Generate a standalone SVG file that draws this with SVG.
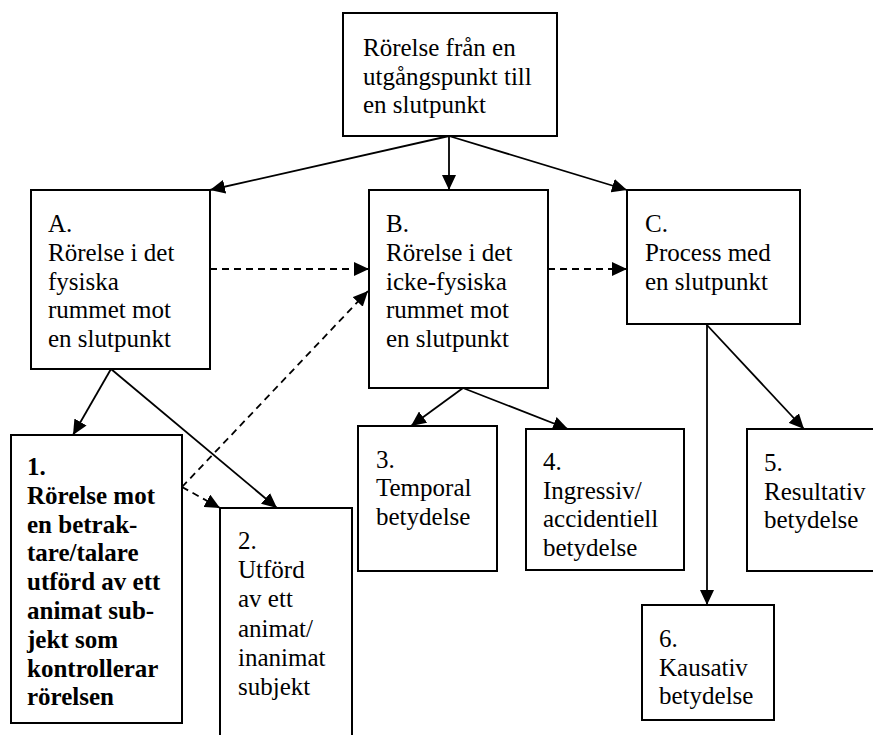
<svg xmlns="http://www.w3.org/2000/svg" width="873" height="735" viewBox="0 0 873 735">
<style>
.box{fill:#fff;stroke:#000;stroke-width:2}
.t{font-family:"Liberation Serif","Times New Roman",serif;font-size:25px;fill:#000}
.b{font-weight:bold}
.ln{fill:none;stroke:#000;stroke-width:1.8}
.dash{stroke-dasharray:7 5}
</style>
<defs>
<marker id="ah" markerUnits="userSpaceOnUse" markerWidth="16" markerHeight="14" refX="15" refY="7" orient="auto">
<path d="M0,0 L15,7 L0,14 z" fill="#000"/>
</marker>
</defs>
<rect width="873" height="735" fill="#fff"/>
<g id="connectors">
<path class="ln" d="M449,136 L210,190" marker-end="url(#ah)"/>
<path class="ln" d="M449,136 L449,190" marker-end="url(#ah)"/>
<path class="ln" d="M449,136 L627,190" marker-end="url(#ah)"/>
<path class="ln dash" d="M210,269 L369,269" marker-end="url(#ah)"/>
<path class="ln dash" d="M548,269 L627,269" marker-end="url(#ah)"/>
<path class="ln" d="M111,369 L73,435" marker-end="url(#ah)"/>
<path class="ln" d="M111,369 L277,508" marker-end="url(#ah)"/>
<path class="ln dash" d="M182,487 L368,291" marker-end="url(#ah)"/>
<path class="ln dash" d="M182,487 L220,508" marker-end="url(#ah)"/>
<path class="ln" d="M463,388 L411,426" marker-end="url(#ah)"/>
<path class="ln" d="M463,388 L568,429" marker-end="url(#ah)"/>
<path class="ln" d="M706,324 L804,429" marker-end="url(#ah)"/>
<path class="ln" d="M707,324 L707,605" marker-end="url(#ah)"/>
</g>
<g id="top">
<rect class="box" x="343" y="13" width="214" height="123"/>
<text class="t" x="363" y="56">Rörelse från en</text>
<text class="t" x="363" y="84.5">utgångspunkt till</text>
<text class="t" x="363" y="113">en slutpunkt</text>
</g>
<g id="A">
<rect class="box" x="31" y="190" width="179" height="179"/>
<text class="t" x="48" y="232">A.</text>
<text class="t" x="48" y="260.75">Rörelse i det</text>
<text class="t" x="48" y="289.5">fysiska</text>
<text class="t" x="48" y="318.25">rummet mot</text>
<text class="t" x="48" y="347">en slutpunkt</text>
</g>
<g id="B">
<rect class="box" x="369" y="190" width="179" height="198"/>
<text class="t" x="386" y="232">B.</text>
<text class="t" x="386" y="260.75">Rörelse i det</text>
<text class="t" x="386" y="289.5">icke-fysiska</text>
<text class="t" x="386" y="318.25">rummet mot</text>
<text class="t" x="386" y="347">en slutpunkt</text>
</g>
<g id="C">
<rect class="box" x="627" y="190" width="173" height="134"/>
<text class="t" x="645" y="232">C.</text>
<text class="t" x="645" y="260.75">Process med</text>
<text class="t" x="645" y="289.5">en slutpunkt</text>
</g>
<g id="n1">
<rect class="box" x="11" y="435" width="171" height="288"/>
<text class="t b" x="27" y="475">1.</text>
<text class="t b" x="27" y="503.8">Rörelse mot</text>
<text class="t b" x="27" y="532.6">en betrak-</text>
<text class="t b" x="27" y="561.4">tare/talare</text>
<text class="t b" x="27" y="590.2">utförd av ett</text>
<text class="t b" x="27" y="619">animat sub-</text>
<text class="t b" x="27" y="647.8">jekt som</text>
<text class="t b" x="27" y="676.6">kontrollerar</text>
<text class="t b" x="27" y="705.4">rörelsen</text>
</g>
<g id="n2">
<rect class="box" x="220" y="508" width="132" height="240"/>
<text class="t" x="238" y="549">2.</text>
<text class="t" x="238" y="578.2">Utförd</text>
<text class="t" x="238" y="607.4">av ett</text>
<text class="t" x="238" y="636.6">animat/</text>
<text class="t" x="238" y="665.8">inanimat</text>
<text class="t" x="238" y="695">subjekt</text>
</g>
<g id="n3">
<rect class="box" x="358" y="426" width="139" height="145"/>
<text class="t" x="376" y="467.5">3.</text>
<text class="t" x="376" y="496">Temporal</text>
<text class="t" x="376" y="524.5">betydelse</text>
</g>
<g id="n4">
<rect class="box" x="526" y="429" width="158" height="141"/>
<text class="t" x="543" y="470">4.</text>
<text class="t" x="543" y="498.5">Ingressiv/</text>
<text class="t" x="543" y="527">accidentiell</text>
<text class="t" x="543" y="555.5">betydelse</text>
</g>
<g id="n5">
<rect class="box" x="747" y="429" width="140" height="142"/>
<text class="t" x="764" y="471">5.</text>
<text class="t" x="764" y="499.5">Resultativ</text>
<text class="t" x="764" y="528">betydelse</text>
</g>
<g id="n6">
<rect class="box" x="642" y="605" width="132" height="115"/>
<text class="t" x="659" y="647">6.</text>
<text class="t" x="659" y="675.5">Kausativ</text>
<text class="t" x="659" y="704">betydelse</text>
</g>
</svg>
